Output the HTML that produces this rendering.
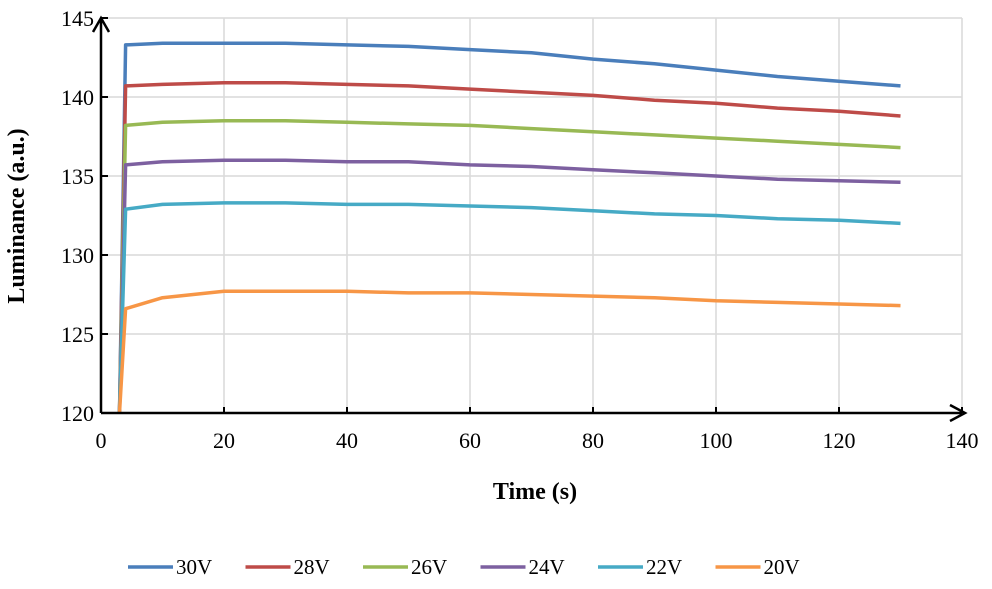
<!DOCTYPE html>
<html><head><meta charset="utf-8"><style>
body{margin:0;background:#fff}
svg text{font-family:"Liberation Serif",serif;fill:#000}
</style></head><body>
<svg id="c" width="992" height="584"></svg>
<script>
const times=[3,4,10,20,30,40,50,60,70,80,90,100,110,120,130];
const seriesNames=["30V","28V","26V","24V","22V","20V"];
const s30=[120,143.3,143.4,143.4,143.4,143.3,143.2,143.0,142.8,142.4,142.1,141.7,141.3,141.0,140.7];
const s28=[120,140.7,140.8,140.9,140.9,140.8,140.7,140.5,140.3,140.1,139.8,139.6,139.3,139.1,138.8];
const s26=[120,138.2,138.4,138.5,138.5,138.4,138.3,138.2,138.0,137.8,137.6,137.4,137.2,137.0,136.8];
const s24=[120,135.7,135.9,136.0,136.0,135.9,135.9,135.7,135.6,135.4,135.2,135.0,134.8,134.7,134.6];
const s22=[120,132.9,133.2,133.3,133.3,133.2,133.2,133.1,133.0,132.8,132.6,132.5,132.3,132.2,132.0];
const s20=[120,126.6,127.3,127.7,127.7,127.7,127.6,127.6,127.5,127.4,127.3,127.1,127.0,126.9,126.8];
const seriesVals=[s30,s28,s26,s24,s22,s20];
const colors=["#4a7ebb","#be4b48","#98b954","#7d60a0","#46aac5","#f79646"];
const xTicks=[0,20,40,60,80,100,120,140];
const yTicks=[120,125,130,135,140,145];
const X=v=>101+v*6.15, Y=v=>413-(v-120)*15.8;
const svg=document.getElementById('c'),NS="http://www.w3.org/2000/svg";
function mk(t,a,txt){const e=document.createElementNS(NS,t);for(const k in a)e.setAttribute(k,a[k]);if(txt!=null)e.textContent=txt;svg.appendChild(e);return e;}
xTicks.forEach(t=>{if(t>0){const g=mk('line',{x1:X(t),x2:X(t),y1:Y(145),y2:413,stroke:'#d9d9d9','stroke-width':1.5});


const k=mk('line',{x1:X(t),x2:X(t),y1:407,y2:413,stroke:'#000','stroke-width':2});

}
const l=mk('text',{x:X(t),y:448,'text-anchor':'middle','font-size':22},t);

});
yTicks.forEach(t=>{if(t>120){const g=mk('line',{x1:101,x2:X(140),y1:Y(t),y2:Y(t),stroke:'#d9d9d9','stroke-width':1.5});


const k=mk('line',{x1:101,x2:108,y1:Y(t),y2:Y(t),stroke:'#000','stroke-width':2});

}
const l=mk('text',{x:94,y:Y(t)+8,'text-anchor':'end','font-size':22},t);

});
seriesVals.forEach((vals,i)=>{const d=vals.map((v,j)=>(j?'L':'M')+X(times[j]).toFixed(1)+','+Y(v).toFixed(1)).join('');
const p=mk('path',{d:d,fill:'none',stroke:colors[i],'stroke-width':3.5,'stroke-linejoin':'round'});

});
const ax=mk('path',{d:'M101,413V20M93,32L101,18L109,32M101,413H962M950,405L965,413L950,421',fill:'none',stroke:'#000','stroke-width':2.5});


const xt=mk('text',{x:535,y:499,'text-anchor':'middle','font-size':24,'font-weight':'bold'},'Time (s)');


const yt=mk('text',{x:0,y:0,'text-anchor':'middle','font-size':24,'font-weight':'bold',transform:'translate(24,216) rotate(-90)'},'Luminance (a.u.)');


seriesNames.forEach((n,i)=>{const x0=128+i*117.5;
const l=mk('line',{x1:x0,x2:x0+45,y1:567,y2:567,stroke:colors[i],'stroke-width':3.5});


const t=mk('text',{x:x0+48,y:574,'font-size':21},n);

});
</script>
</body></html>
